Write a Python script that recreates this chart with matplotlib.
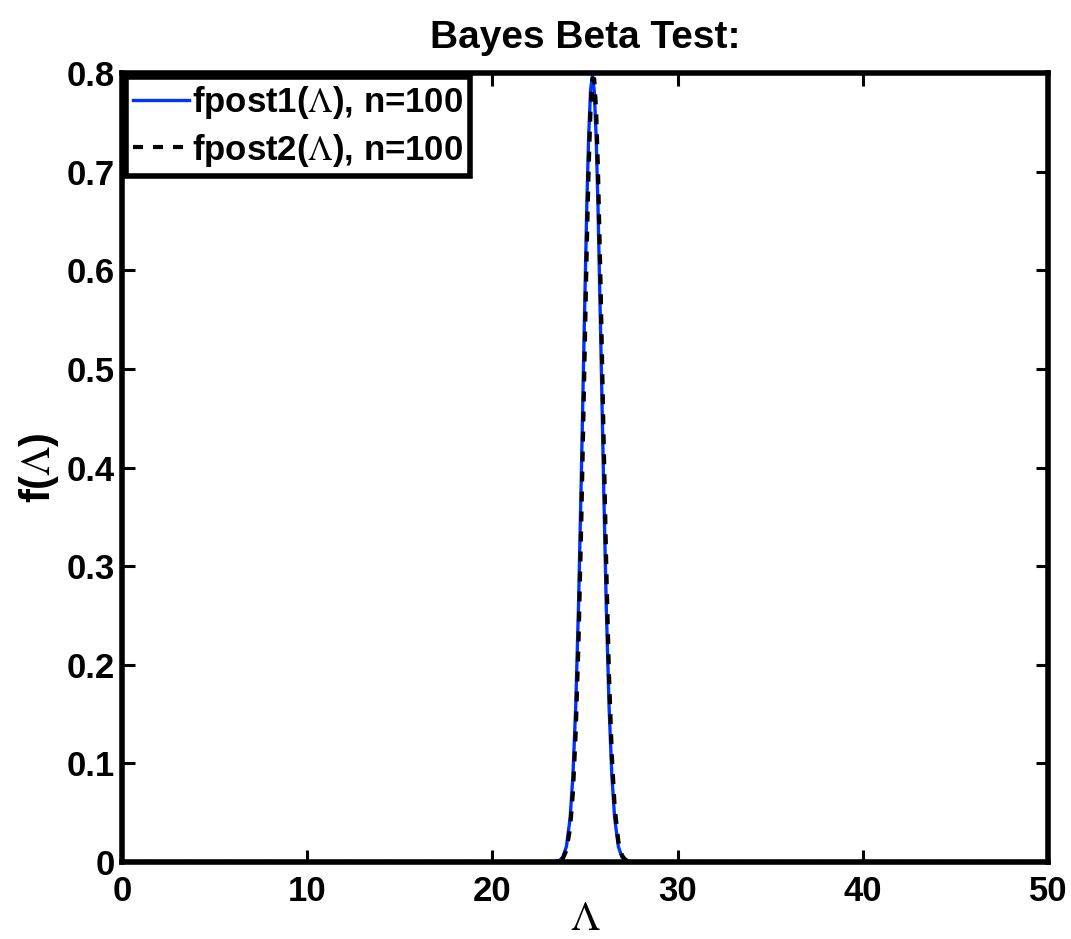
import matplotlib
matplotlib.use("Agg")
import matplotlib.pyplot as plt

plt.rcParams['font.family'] = ['Liberation Sans', 'DejaVu Sans']
plt.rcParams['mathtext.fontset'] = 'stix'

# values
lam = [0, 23.0, 23.6, 23.8, 24.0, 24.2, 24.35, 24.5, 24.65, 24.8, 24.95, 25.1, 25.2, 25.3,
       25.4, 25.5, 25.6, 25.7, 25.85, 26.0, 26.15, 26.3, 26.45, 26.6, 26.8, 27.0, 27.2, 27.8, 50]
fpost1 = [0, 0, 0.0012, 0.0048, 0.0158, 0.045, 0.088, 0.158, 0.259, 0.389, 0.532, 0.667, 0.737, 0.782,
          0.798, 0.782, 0.737, 0.667, 0.532, 0.389, 0.259, 0.158, 0.088, 0.045, 0.0158, 0.0048, 0.0012, 0, 0]
fpost2 = [0, 0, 0.0009, 0.0034, 0.0119, 0.035, 0.071, 0.131, 0.222, 0.343, 0.484, 0.625, 0.704, 0.763,
          0.794, 0.794, 0.763, 0.704, 0.579, 0.436, 0.300, 0.188, 0.108, 0.0566, 0.0209, 0.0065, 0.0017, 0, 0]

xticks = [0, 10, 20, 30, 40, 50]
yticks = [0, 0.1, 0.2, 0.3, 0.4, 0.5, 0.6, 0.7, 0.8]

fig = plt.figure(figsize=(10.71, 9.39), dpi=100)
ax = fig.add_axes([0.1139, 0.0820, 0.8646, 0.8402])

ax.plot(lam, fpost1, color=(0.0, 0.2, 1.0), lw=2.4, label=r'fpost1($\Lambda$), n=100')
ax.plot(lam, fpost2, color='black', lw=3.0, linestyle=(0, (2.4, 2.4)),
        label=r'fpost2($\Lambda$), n=100')

ax.set_xlim(0, 50)
ax.set_ylim(0, 0.8)
ax.set_xticks(xticks)
ax.set_yticks(yticks)
ax.set_xticklabels([str(t) for t in xticks])
ax.set_yticklabels(['0'] + ['%.1f' % t for t in yticks[1:]])

for s in ax.spines.values():
    s.set_linewidth(4)
ax.tick_params(direction='in', length=9, width=2.2, top=True, right=True,
               labelsize=25, pad=5)
ax.tick_params(axis='x', pad=9)
for lbl in ax.get_xticklabels() + ax.get_yticklabels():
    lbl.set_fontweight('bold')

ax.set_title('Bayes Beta Test:', fontsize=28, fontweight='bold', pad=18)
ax.set_xlabel(r'$\Lambda$', fontsize=30, labelpad=-6)
ax.set_ylabel(r'f($\Lambda$)', fontsize=30, fontweight='bold', labelpad=4)

leg = ax.legend(loc='upper left', prop={'weight': 'bold', 'size': 25},
                handlelength=1.6, handletextpad=0.1, borderpad=0.2, labelspacing=0.3,
                borderaxespad=0.12, fancybox=False, framealpha=1, edgecolor='black')
leg.get_frame().set_linewidth(4)

fig.savefig('out.png', dpi=100)
